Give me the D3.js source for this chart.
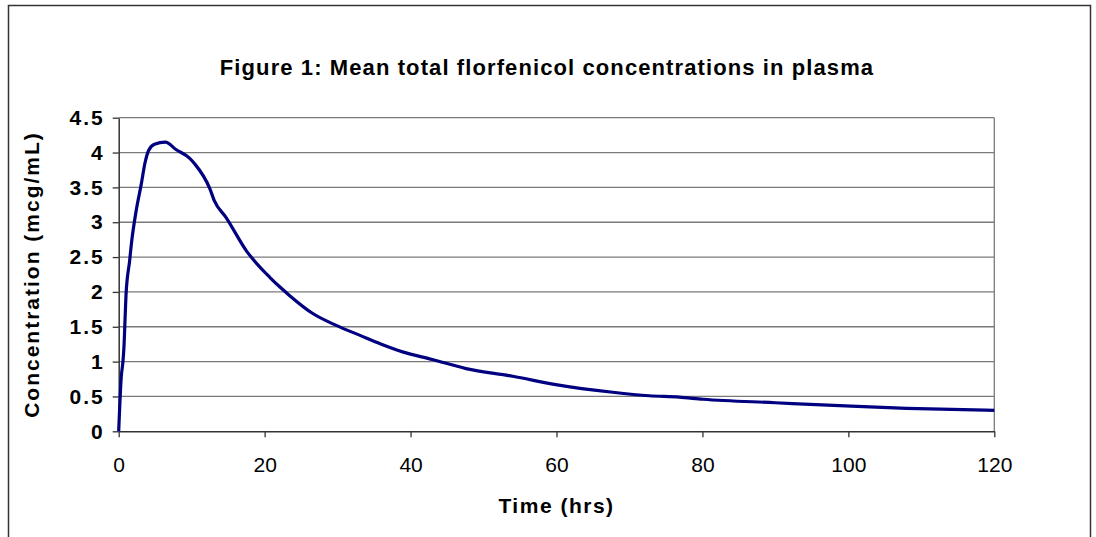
<!DOCTYPE html>
<html>
<head>
<meta charset="utf-8">
<script src="https://cdn.jsdelivr.net/npm/d3@7"></script>
<style>
  body { margin: 0; background: #fff; }
  svg { display: block; font-family: "Liberation Sans", Arial, sans-serif; }
</style>
</head>
<body>
<div id="chart"></div>
<script>
// Data
var hours = [0, 0.35, 0.6, 0.72, 0.9, 1.0, 1.5, 1.75, 2.4, 3.1, 3.6, 4.1, 4.9, 6.4, 7.9, 9.7, 10.4,
  12.5, 13.1, 14.7, 17.5, 20.7, 22.1, 23.4, 26.6, 29.8, 33, 36, 38.9, 43, 47.6, 54, 59.9,
  67.7, 72.7, 76.8, 80.1, 90, 100.4, 108, 120];
var concentration = [0, 0.78, 1.02, 1.21, 1.69, 1.95, 2.45, 2.7, 3.17, 3.55, 3.85, 4.03, 4.12, 4.15, 4.04, 3.92, 3.84,
  3.48, 3.31, 3.07, 2.59, 2.21, 2.07, 1.95, 1.69, 1.52, 1.38, 1.25, 1.14, 1.03, 0.90, 0.79, 0.67,
  0.56, 0.51, 0.49, 0.46, 0.41, 0.36, 0.33, 0.30];
var xTicks = [0, 20, 40, 60, 80, 100, 120];
var yTicks = [0, 0.5, 1, 1.5, 2, 2.5, 3, 3.5, 4, 4.5];

var svgWidth = 1096;
var svgHeight = 537;

var margin = { top: 117.7, right: 101.7, bottom: 105.7, left: 118.7 };
var width = svgWidth - margin.left - margin.right;
var height = svgHeight - margin.top - margin.bottom;

var svg = d3.select("#chart")
  .append("svg")
  .attr("width", svgWidth)
  .attr("height", svgHeight);

// outer frame (open at the bottom)
svg.append("path")
  .attr("d", "M8.5,537 L8.5,5.5 L1090.5,5.5 L1090.5,537")
  .attr("fill", "none")
  .attr("stroke", "#333")
  .attr("stroke-width", 1.5);

svg.append("text")
  .attr("x", 547)
  .attr("y", 75)
  .attr("text-anchor", "middle")
  .attr("font-size", "22px")
  .attr("font-weight", "bold")
  .attr("letter-spacing", "1.1px")
  .text("Figure 1: Mean total florfenicol concentrations in plasma");

var chartGroup = svg.append("g")
  .attr("transform", `translate(${margin.left}, ${margin.top})`);

var x = d3.scaleLinear().domain([0, 120]).range([0, width]);
var y = d3.scaleLinear().domain([0, 4.5]).range([height, 0]);

// gridlines
chartGroup.selectAll(".grid")
  .data(yTicks.slice(1))
  .enter()
  .append("line")
  .attr("x1", 0)
  .attr("x2", width)
  .attr("y1", d => y(d))
  .attr("y2", d => y(d))
  .attr("stroke", "#7a7a7a")
  .attr("stroke-width", 1.3);

// right border of plot area
chartGroup.append("line")
  .attr("x1", width).attr("x2", width)
  .attr("y1", 0).attr("y2", height)
  .attr("stroke", "#7a7a7a")
  .attr("stroke-width", 1.3);

var bottomAxis = d3.axisBottom(x).tickValues(xTicks).tickSize(6).tickPadding(20).tickSizeOuter(0);
var leftAxis = d3.axisLeft(y).tickValues(yTicks).tickSize(6).tickPadding(8).tickSizeOuter(0)
  .tickFormat(d3.format(""));

var gx = chartGroup.append("g")
  .attr("transform", `translate(0, ${height})`)
  .call(bottomAxis);
gx.selectAll("text").attr("font-size", "21px").attr("fill", "#000").attr("font-family", "Liberation Sans, Arial, sans-serif");
gx.selectAll("line").attr("stroke", "#333").attr("stroke-width", 1.3);
gx.select(".domain").attr("stroke", "#333").attr("stroke-width", 1.5);

var gy = chartGroup.append("g").call(leftAxis);
gy.selectAll("text").attr("font-size", "21px").attr("font-weight", "bold").attr("fill", "#000")
  .attr("letter-spacing", "2px").attr("font-family", "Liberation Sans, Arial, sans-serif");
gy.selectAll("line").attr("stroke", "#333").attr("stroke-width", 1.3);
gy.select(".domain").attr("stroke", "#333").attr("stroke-width", 1.5);

// the curve
var points = hours.map((h, i) => [h, concentration[i]]);
var line = d3.line()
  .x(d => x(d[0]))
  .y(d => y(d[1]))
  .curve(d3.curveMonotoneX);

chartGroup.append("path")
  .datum(points)
  .attr("d", line)
  .attr("fill", "none")
  .attr("stroke", "#000080")
  .attr("stroke-width", 3.2)
  .attr("stroke-linejoin", "round");

// axis titles
svg.append("text")
  .attr("x", margin.left + width / 2)
  .attr("y", 513)
  .attr("text-anchor", "middle")
  .attr("font-size", "21px")
  .attr("font-weight", "bold")
  .attr("letter-spacing", "1.5px")
  .text("Time (hrs)");

svg.append("text")
  .attr("transform", `translate(39, ${margin.top + height / 2}) rotate(-90)`)
  .attr("text-anchor", "middle")
  .attr("font-size", "21px")
  .attr("font-weight", "bold")
  .attr("letter-spacing", "2px")
  .text("Concentration (mcg/mL)");
</script>
</body>
</html>
